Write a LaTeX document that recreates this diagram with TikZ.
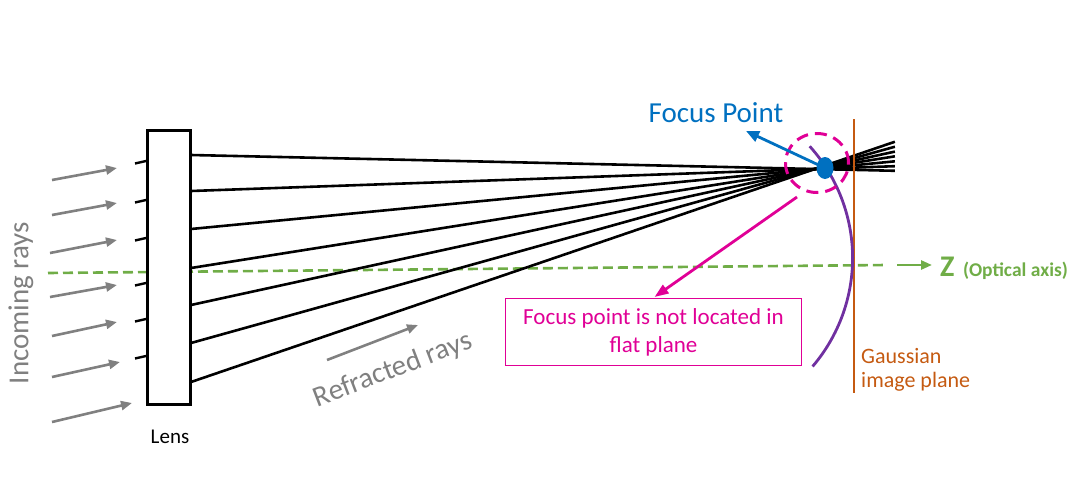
\documentclass[tikz,border=0pt]{standalone}
\usepackage{fontspec}
\setmainfont{Carlito}
\usetikzlibrary{arrows.meta,calc,shapes.geometric}
\definecolor{raygray}{RGB}{128,128,128}
\definecolor{axisgreen}{RGB}{112,173,71}
\definecolor{focusblue}{RGB}{0,112,192}
\definecolor{magentaC}{RGB}{224,0,150}
\definecolor{purpleC}{RGB}{112,48,160}
\definecolor{orangeC}{RGB}{197,90,17}
\tikzset{
  grayarrow/.style={draw=raygray, line width=2.6pt, -{Triangle[length=11pt,width=9pt]}},
  raystyle/.style={draw=black, line width=2.6pt},
  stub/.style={draw=black, line width=2.4pt},
  axisline/.style={draw=axisgreen, line width=2.6pt, dash pattern=on 10pt off 5pt},
  axisarrow/.style={draw=axisgreen, line width=2.6pt, -{Triangle[length=11pt,width=9pt]}},
  lensbox/.style={draw=black, line width=3pt, fill=white, inner sep=0pt, minimum width=43pt, minimum height=274pt},
  bluearrow/.style={draw=focusblue, line width=2.8pt, -{Triangle[length=13pt,width=11pt]}},
  magarrow/.style={draw=magentaC, line width=2.8pt, -{Triangle[length=14pt,width=10pt]}},
  notebox/.style={draw=magentaC, line width=1pt, text=magentaC, align=center, inner sep=0pt, minimum width=296pt, minimum height=67pt, font=\fontsize{23}{28}\selectfont},
}
\begin{document}
\begin{tikzpicture}[x=1pt,y=-1pt]
\useasboundingbox (0,0) rectangle (1078,477);
% optical axis
\coordinate (axL) at (48,273);
\coordinate (axR) at (886,265);
\draw[axisline] (axL) -- (axR);
\coordinate (axA) at (897,265);
\coordinate (axB) at (932,265);
\draw[axisarrow] (axA) -- (axB);
\node[anchor=base west, text=axisgreen, inner sep=0pt, font=\fontsize{30}{32}\selectfont\bfseries] (zlab) at (940,276) {Z};
\node[anchor=base west, text=axisgreen, inner sep=0pt, font=\fontsize{19.5}{22}\selectfont\bfseries] (oalab) at (963,276) {(Optical axis)};
% lens
\node[lensbox] (lens) at (169,267.5) {};
\node[font=\fontsize{21}{24}\selectfont, anchor=base] (lenslab) at (170,443) {Lens};
% stubs
\foreach \i/\y in {1/161,2/200,3/238,4/283,5/319,6/356} {
  \coordinate (sta\i) at (135,\y+2.5);
  \coordinate (stb\i) at (146,\y);
  \draw[stub] (sta\i) -- (stb\i);
}
% incoming arrows
\foreach \i/\ax/\ay/\bx/\by in {1/52/180/117/168, 2/52/215/117/203, 3/50/253/117/240, 4/50/297/117/285, 5/52/336/117/322, 6/52/377/120/362, 7/52/422/132/403} {
  \coordinate (ins\i) at (\ax,\ay);
  \coordinate (ine\i) at (\bx,\by);
  \draw[grayarrow] (ins\i) -- (ine\i);
}
\node[rotate=90, text=raygray, font=\fontsize{29}{32}\selectfont] (inlab) at (21,303) {Incoming rays};
% focus
\coordinate (F) at (815,169);
\foreach \i/\y in {1/155,2/191,3/229,4/268,5/305,6/343,7/382} {
  \coordinate (rs\i) at (191,\y);
  \coordinate (re\i) at ($(rs\i)!1.128!(F)$);
  \draw[raystyle] (rs\i) -- (re\i);
}
% gaussian image plane
\coordinate (gt) at (854,119);
\coordinate (gb) at (854,393);
\draw[draw=orangeC, line width=2.4pt] (gt) -- (gb);
\node[anchor=north west, align=left, text=orangeC, inner sep=0pt, font=\fontsize{22}{24}\selectfont] (gausslab) at (861,348) {Gaussian\\image plane};
% curved focal surface
\draw[draw=purpleC, line width=2.8pt] plot[domain=-42:40.5, samples=60] ({685.6+167*cos(\x)},{258+167*sin(\x)});
% focus point
\node[draw=magentaC, dash pattern=on 12pt off 7pt, line width=3pt, ellipse, minimum width=63pt, minimum height=59pt, inner sep=0pt] (circ) at (817,163) {};
\node[ellipse, fill=focusblue, minimum width=17pt, minimum height=22pt, inner sep=0pt] (fp) at (825,168) {};
\node[text=focusblue, font=\fontsize{29}{32}\selectfont] (fplab) at (716,113) {Focus Point};
\coordinate (fpa) at (746,131);
\draw[bluearrow] (fp.center) -- (fpa);
% note
\node[notebox] (note) at (653.5,332) {Focus point is not located in\\flat plane};
\coordinate (ma) at (797,197);
\draw[magarrow] (ma) -- ($(note.north)+(1,-1)$);
% refracted label
\coordinate (rfa) at (327,360);
\coordinate (rfb) at (418,325);
\draw[grayarrow] (rfa) -- (rfb);
\node[rotate=21, text=raygray, font=\fontsize{29}{32}\selectfont] (rflab) at (393,370) {Refracted rays};
\end{tikzpicture}
\end{document}
